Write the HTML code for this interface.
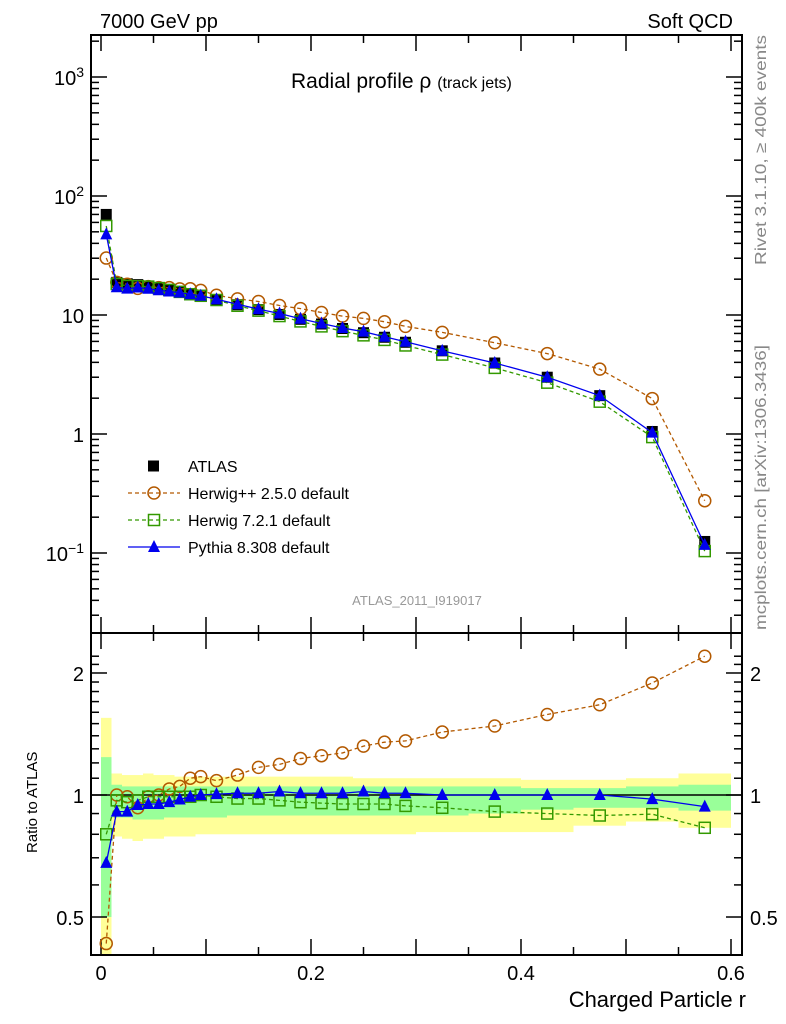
<!DOCTYPE html>
<html><head><meta charset="utf-8"><style>
body{margin:0;background:#fff;}
svg{display:block;font-family:"Liberation Sans",sans-serif;}
</style></head><body>
<svg id="c" width="786" height="1024" xmlns="http://www.w3.org/2000/svg">
<g id="bands"></g>
<g id="ticks"></g>
<g id="series"></g>
<rect x="91" y="35" width="651" height="598" fill="none" stroke="#000" stroke-width="2"/>
<rect x="91" y="633" width="651" height="322" fill="none" stroke="#000" stroke-width="2"/>
<text x="100" y="28" font-size="20">7000 GeV pp</text>
<text x="733" y="28" font-size="20" text-anchor="end">Soft QCD</text>
<text x="291" y="88" font-size="21">Radial profile ρ <tspan font-size="16">(track jets)</tspan></text>
<text x="417" y="605" font-size="13" fill="#999" text-anchor="middle">ATLAS_2011_I919017</text>
<text transform="translate(766,265) rotate(-90)" font-size="16" fill="#888" textLength="230" lengthAdjust="spacingAndGlyphs">Rivet 3.1.10, ≥ 400k events</text>
<text transform="translate(766,630) rotate(-90)" font-size="16" fill="#888" textLength="285" lengthAdjust="spacingAndGlyphs">mcplots.cern.ch [arXiv:1306.3436]</text>
<text transform="translate(37,853) rotate(-90)" font-size="15">Ratio to ATLAS</text>
<text x="746" y="1007" font-size="22" text-anchor="end">Charged Particle r</text>
<g id="legend"></g>
</svg>
<script>
const binEdges=[0,0.01,0.02,0.03,0.04,0.05,0.06,0.07,0.08,0.09,0.1,0.12,0.14,0.16,0.18,0.2,0.22,0.24,0.26,0.28,0.3,0.35,0.4,0.45,0.5,0.55,0.6];
const atlas=[70,18.8,18.3,18,17.5,17,16.4,15.8,15.1,14.5,13.5,12.2,11.1,10.1,9.2,8.4,7.7,7.1,6.5,5.9,5.0,3.95,3.0,2.1,1.05,0.125];
const herwigppRatio=[0.43,1.0,0.99,0.93,0.99,1.0,1.035,1.05,1.1,1.11,1.085,1.12,1.17,1.19,1.23,1.25,1.27,1.32,1.35,1.36,1.43,1.48,1.58,1.67,1.89,2.2];
const herwig7Ratio=[0.8,0.97,0.96,0.97,0.99,0.99,0.99,0.99,0.99,1.0,0.99,0.98,0.98,0.97,0.96,0.955,0.95,0.95,0.95,0.94,0.93,0.91,0.9,0.89,0.897,0.83];
const pythiaRatio=[0.68,0.91,0.91,0.945,0.95,0.95,0.96,0.975,0.99,1.0,1.005,1.01,1.01,1.02,1.01,1.01,1.01,1.02,1.01,1.01,1.0,1.0,1.0,1.0,0.977,0.936];
const greenUp=[1.24,1.06,1.05,1.05,1.05,1.05,1.05,1.05,1.05,1.05,1.05,1.05,1.05,1.05,1.05,1.05,1.05,1.05,1.05,1.05,1.05,1.05,1.04,1.04,1.05,1.06];
const greenDn=[0.5,0.88,0.88,0.87,0.87,0.87,0.88,0.88,0.88,0.88,0.88,0.89,0.89,0.89,0.89,0.89,0.89,0.89,0.89,0.89,0.89,0.9,0.92,0.93,0.93,0.915];
const yellowUp=[1.55,1.13,1.12,1.12,1.13,1.12,1.12,1.11,1.11,1.11,1.11,1.11,1.11,1.11,1.11,1.11,1.11,1.1,1.1,1.1,1.1,1.1,1.09,1.09,1.1,1.13];
const yellowDn=[0.3,0.79,0.78,0.77,0.78,0.78,0.79,0.79,0.79,0.8,0.8,0.8,0.8,0.8,0.8,0.8,0.8,0.8,0.8,0.8,0.81,0.81,0.81,0.84,0.86,0.83];
const xTickLabels=["0","0.2","0.4","0.6"];
const yTickMain=[{v:1000,t:"10<tspan dy='-8' font-size='14'>3</tspan>"},{v:100,t:"10<tspan dy='-8' font-size='14'>2</tspan>"},{v:10,t:"10"},{v:1,t:"1"},{v:0.1,t:"10<tspan dy='-8' font-size='14'>−1</tspan>"}];
const yTickRatio=["0.5","1","2"];

const NS="http://www.w3.org/2000/svg";
const X=v=>101+v*1050;
const Y=v=>315-119*Math.log10(v/10);
const R=v=>795-405.3*Math.log10(v);
function mk(p,tag,at){const e=document.createElementNS(NS,tag);for(const k in at)e.setAttribute(k,at[k]);p.appendChild(e);return e;}
const bands=document.getElementById('bands'),ticks=document.getElementById('ticks'),ser=document.getElementById('series'),leg=document.getElementById('legend');
const centers=atlas.map((_,i)=>(binEdges[i]+binEdges[i+1])/2);
for(let i=0;i<atlas.length;i++){
 const x0=X(binEdges[i]),x1=X(binEdges[i+1]);
 const yb=Math.min(R(yellowDn[i]),955);
 let r=mk(bands,'rect',{x:x0,y:R(yellowUp[i]),width:x1-x0,height:yb-R(yellowUp[i]),fill:'#ffff99'});
 
 
 r=mk(bands,'rect',{x:x0,y:R(greenUp[i]),width:x1-x0,height:R(greenDn[i])-R(greenUp[i]),fill:'#99ff99'});
 
 
}
let l=mk(bands,'line',{x1:91,x2:742,y1:R(1),y2:R(1),stroke:'#000','stroke-width':1.5});


for(let d=-2;d<=3;d++){for(let m=1;m<10;m++){const v=Math.pow(10,d)*m;const y=Y(v);if(y<36||y>632)continue;const len=m==1?16:8;
 mk(ticks,'line',{x1:91,x2:91+len,y1:y,y2:y,stroke:'#000','stroke-width':1.5});
 mk(ticks,'line',{x1:742,x2:742-len,y1:y,y2:y,stroke:'#000','stroke-width':1.5});}}
yTickMain.forEach(t=>{const e=mk(ticks,'text',{x:84,y:Y(t.v)+8,'font-size':20,'text-anchor':'end'});e.innerHTML=t.t;
 
 });
for(let v=0.4;v<=2.3;v+=0.1){const y=R(v);if(y<634||y>954)continue;const major=Math.abs(v-0.5)<1e-6||Math.abs(v-1)<1e-6||Math.abs(v-2)<1e-6;const len=major?16:8;
 mk(ticks,'line',{x1:91,x2:91+len,y1:y,y2:y,stroke:'#000','stroke-width':1.5});
 mk(ticks,'line',{x1:742,x2:742-len,y1:y,y2:y,stroke:'#000','stroke-width':1.5});}
yTickRatio.forEach(t=>{const y=R(parseFloat(t))+8;
 let e=mk(ticks,'text',{x:84,y:y,'font-size':20,'text-anchor':'end'});e.textContent=t;
 
 
 e=mk(ticks,'text',{x:750,y:y,'font-size':20});e.textContent=t;
 
 });
for(let i=0;i<=12;i++){const v=i*0.05;const x=X(v);const len=i%2==0?16:8;
 [[35,1],[633,-1],[633,1],[955,-1]].forEach(([y0,s])=>mk(ticks,'line',{x1:x,x2:x,y1:y0,y2:y0+s*len,stroke:'#000','stroke-width':1.5}));}
xTickLabels.forEach(t=>{const e=mk(ticks,'text',{x:X(parseFloat(t)),y:980,'font-size':20,'text-anchor':'middle'});e.textContent=t;
 
 });
function line(pts,col,dash){const e=mk(ser,'polyline',{points:pts.map(p=>p.join(',')).join(' '),fill:'none',stroke:col,'stroke-width':1.3});if(dash)e.setAttribute('stroke-dasharray',dash);return e;}
function circ(x,y){return mk(ser,'circle',{cx:x,cy:y,r:6,fill:'none',stroke:'#b35900','stroke-width':1.5});}
function sq(x,y){return mk(ser,'rect',{x:x-5.5,y:y-5.5,width:11,height:11,fill:'none',stroke:'#339900','stroke-width':1.5});}
function tri(x,y){return mk(ser,'polygon',{points:`${x-6},${y+5} ${x+6},${y+5} ${x},${y-7}`,fill:'#0000ee'});}
const models=[
 {r:herwigppRatio,col:'#b35900',dash:'4,3',m:circ,n:'herwigpp'},
 {r:herwig7Ratio,col:'#339900',dash:'4,3',m:sq,n:'herwig7'},
 {r:pythiaRatio,col:'#0000ee',dash:null,m:tri,n:'pythia'}];
for(let i=0;i<atlas.length;i++){const e=mk(ser,'rect',{x:X(centers[i])-5.5,y:Y(atlas[i])-5.5,width:11,height:11,fill:'#000'});
 
 }
models.forEach(md=>{
 let e=line(centers.map((c,i)=>[X(c),Y(atlas[i]*md.r[i])]),md.col,md.dash);
 
 
 e=line(centers.map((c,i)=>[X(c),R(md.r[i])]),md.col,md.dash);
 
 
 centers.forEach((c,i)=>{let p=md.m(X(c),Y(atlas[i]*md.r[i]));
  
  
  p=md.m(X(c),R(md.r[i]));
  
  });
});
const legNames=["ATLAS","Herwig++ 2.5.0 default","Herwig 7.2.1 default","Pythia 8.308 default"];
legNames.forEach((nm,i)=>{const y=466+i*27;const g=mk(leg,'g',{});
 
 
 if(i==0){mk(g,'rect',{x:148,y:y-5.5,width:11,height:11,fill:'#000'});}
 else{const md=models[i-1];const ln=mk(g,'line',{x1:128,x2:180,y1:y,y2:y,stroke:md.col,'stroke-width':1.3});if(md.dash)ln.setAttribute('stroke-dasharray',md.dash);
  const m=md.m(154,y);g.appendChild(m);}
 const t=mk(g,'text',{x:188,y:y+6,'font-size':16});t.textContent=nm;});
</script>
</body></html>
